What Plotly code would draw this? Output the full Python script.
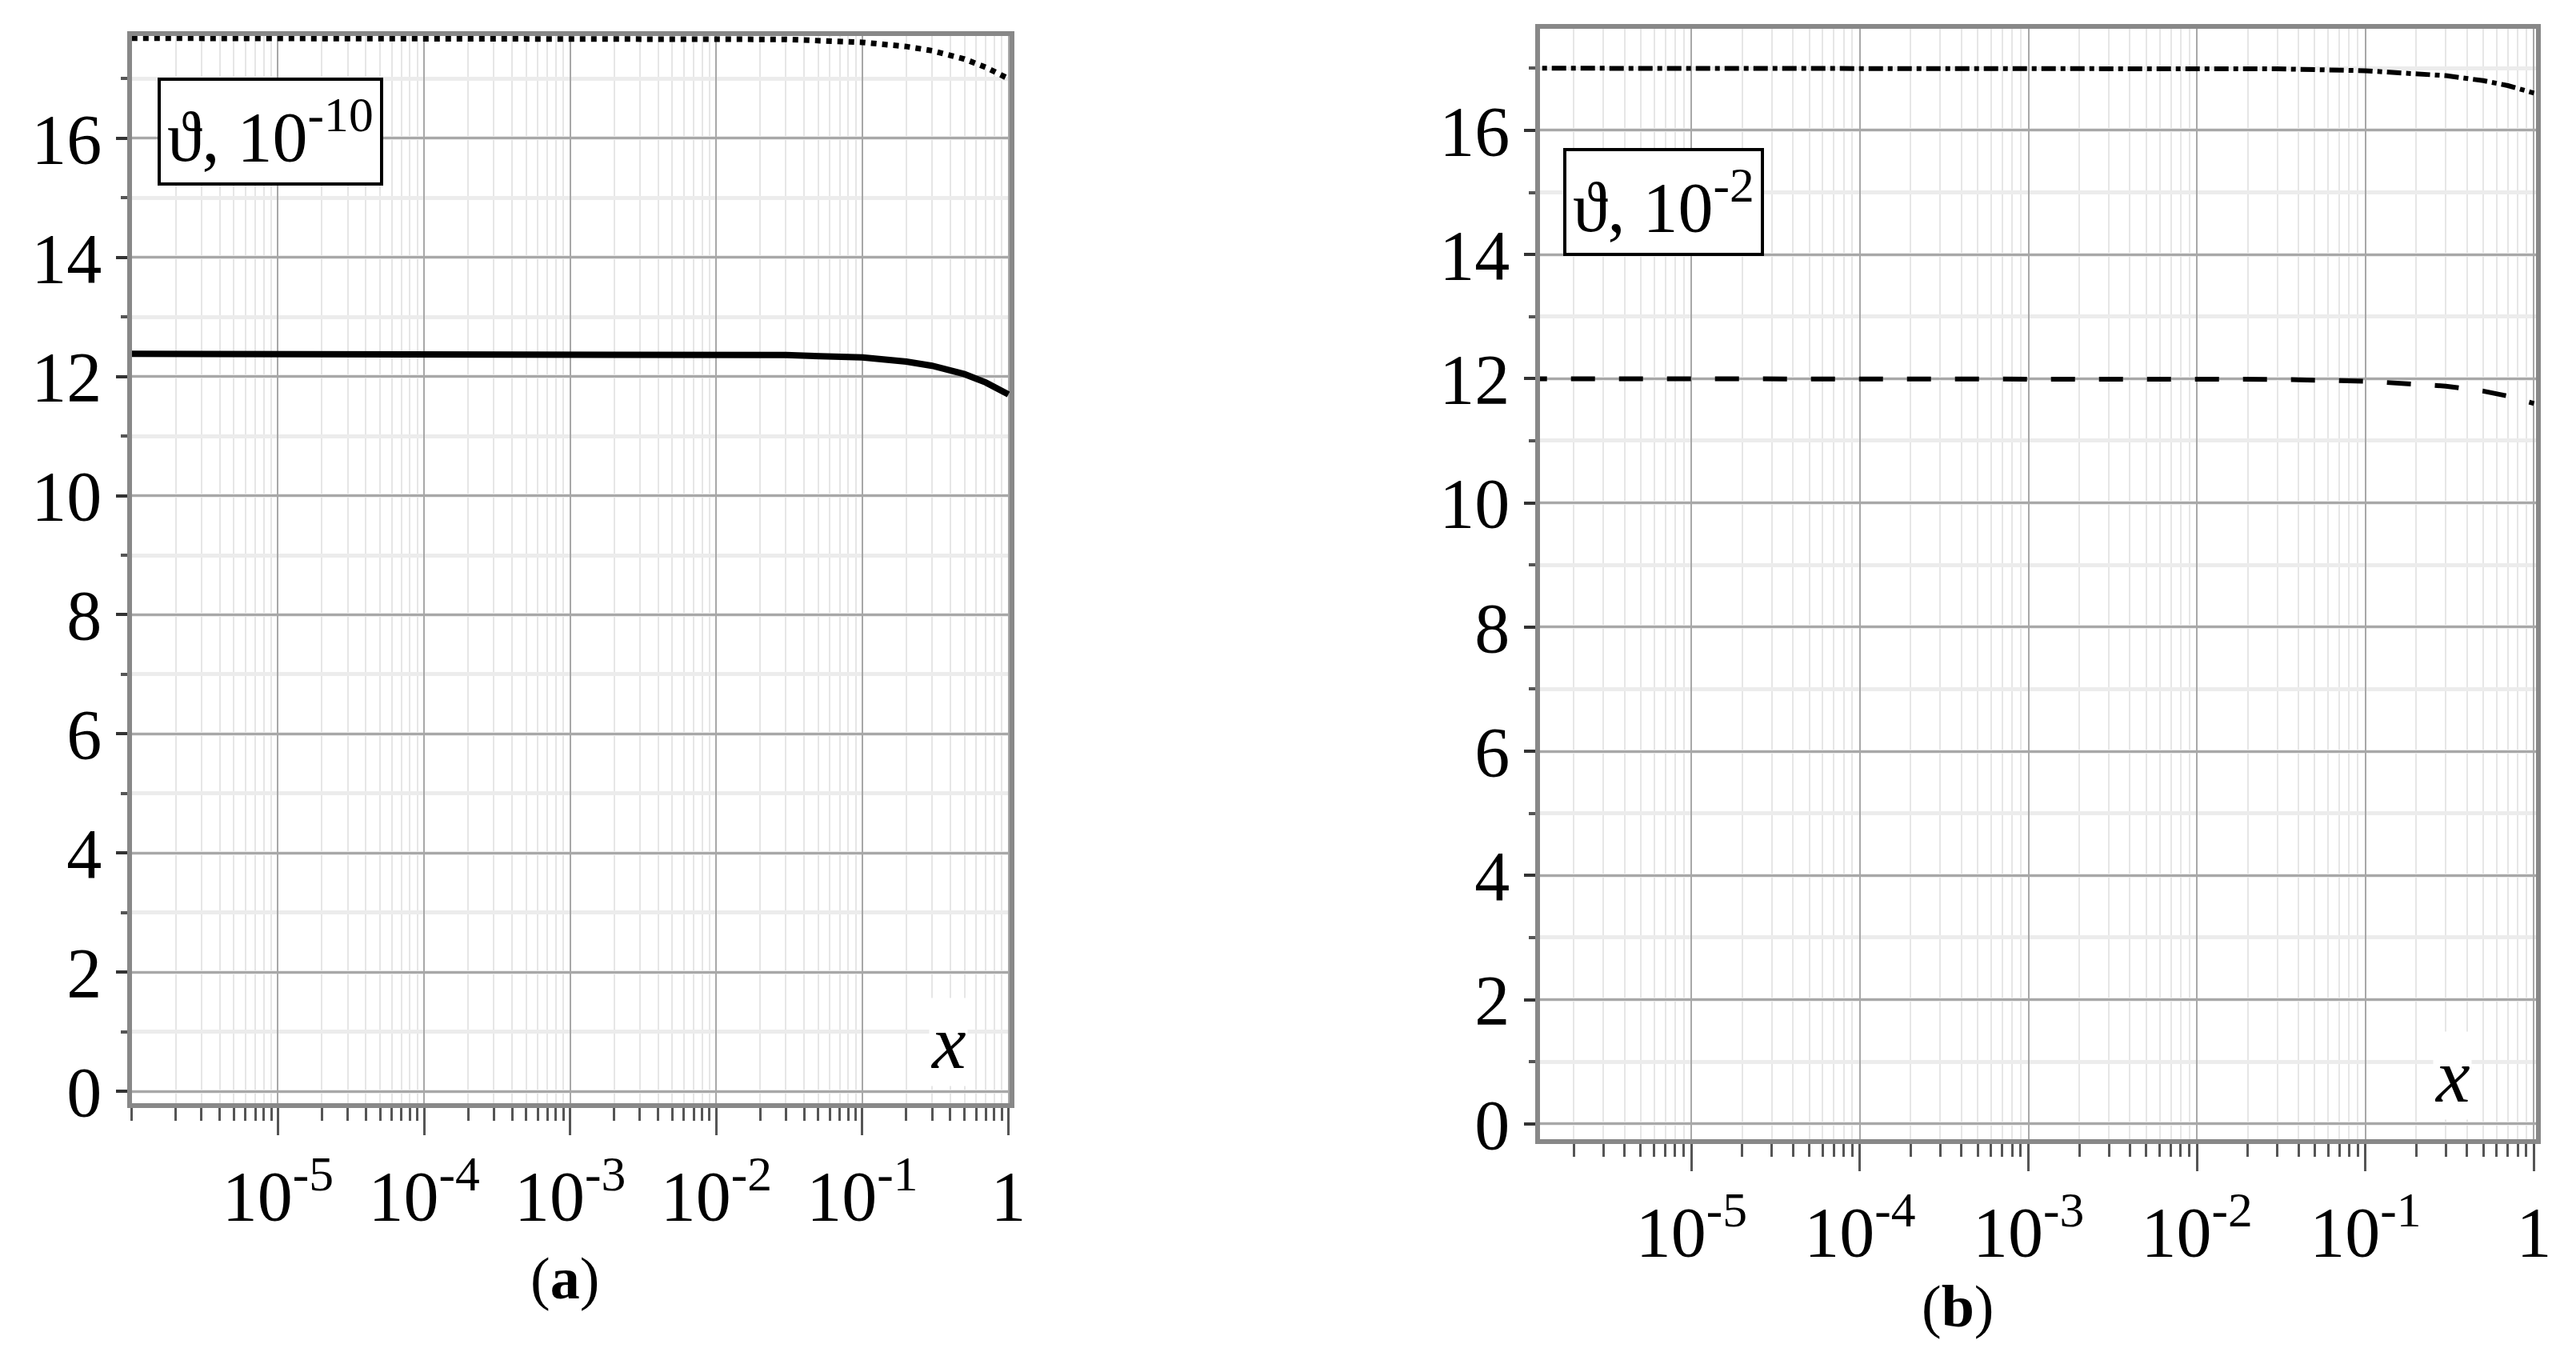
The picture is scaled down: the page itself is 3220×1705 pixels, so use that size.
import plotly.graph_objects as go

x_vals = [1e-6, 1e-3, 1e-2, 0.03, 0.1, 0.2, 0.3, 0.5, 0.7, 1.0]
a_solid = [12.38, 12.38, 12.37, 12.36, 12.32, 12.25, 12.18, 12.04, 11.90, 11.70]
a_dotted = [17.68, 17.68, 17.67, 17.66, 17.61, 17.54, 17.47, 17.33, 17.19, 17.00]
b_dashdot = [17.00, 17.00, 17.00, 16.99, 16.96, 16.92, 16.88, 16.80, 16.72, 16.60]
b_dashed = [12.00, 12.00, 12.00, 11.99, 11.96, 11.92, 11.88, 11.80, 11.72, 11.60]
xtick_vals = [1e-5, 1e-4, 1e-3, 1e-2, 1e-1, 1]
xtick_text = ["10<sup>-5</sup>", "10<sup>-4</sup>", "10<sup>-3</sup>", "10<sup>-2</sup>", "10<sup>-1</sup>", "1"]
ytick_vals = [0, 2, 4, 6, 8, 10, 12, 14, 16]

FONT = "Liberation Serif"
fig = go.Figure()
fig.add_trace(go.Scatter(x=x_vals, y=a_dotted, mode="lines", line=dict(color="black", width=7, dash="dot"), xaxis="x", yaxis="y"))
fig.add_trace(go.Scatter(x=x_vals, y=a_solid, mode="lines", line=dict(color="black", width=8), xaxis="x", yaxis="y"))
fig.add_trace(go.Scatter(x=x_vals, y=b_dashdot, mode="lines", line=dict(color="black", width=6, dash="dashdot"), xaxis="x2", yaxis="y2"))
fig.add_trace(go.Scatter(x=x_vals, y=b_dashed, mode="lines", line=dict(color="black", width=6, dash="longdash"), xaxis="x2", yaxis="y2"))

xcommon = dict(type="log", tickvals=xtick_vals, ticktext=xtick_text, showgrid=True, gridcolor="#a8a8a8", gridwidth=2,
               minor=dict(showgrid=True, gridcolor="#e6e6e6", gridwidth=2, ticks="outside", ticklen=16, tickcolor="#555", dtick="D1"),
               ticks="outside", ticklen=34, tickwidth=3, tickcolor="#555", showline=True, linecolor="#888", linewidth=6, mirror=True,
               tickfont=dict(family=FONT, size=88, color="black"), zeroline=False)
ycommon = dict(tickvals=ytick_vals, showgrid=True, gridcolor="#a8a8a8", gridwidth=3,
               minor=dict(showgrid=True, gridcolor="#ececec", gridwidth=5, dtick=1, ticks="outside", ticklen=8, tickcolor="#555"),
               ticks="outside", ticklen=14, tickwidth=4, tickcolor="#333", showline=True, linecolor="#888", linewidth=6, mirror=True,
               tickfont=dict(family=FONT, size=88, color="black"), zeroline=False)

fig.update_layout(
    width=3220, height=1705, margin=dict(l=0, r=0, t=0, b=0), paper_bgcolor="white", plot_bgcolor="white", showlegend=False,
    xaxis=dict(xcommon, domain=[0.049, 0.392], range=[-6, 0.01], anchor="y"),
    yaxis=dict(ycommon, domain=[0.179, 0.978], range=[-0.2, 17.72], anchor="x"),
    xaxis2=dict(xcommon, domain=[0.599, 0.988], range=[-5.9, 0.01], anchor="y2"),
    yaxis2=dict(ycommon, domain=[0.152, 0.983], range=[-0.25, 17.63], anchor="x2"),
)

ann = [
    dict(text="ϑ, 10<sup>-10</sup>", x=0.059, y=0.947, xanchor="left", yanchor="top"),
    dict(text="ϑ, 10<sup>-2</sup>", x=0.608, y=0.894, xanchor="left", yanchor="top"),
]
for a in ann:
    fig.add_annotation(xref="paper", yref="paper", showarrow=False, bordercolor="black", borderwidth=4, bgcolor="white",
                       borderpad=8, font=dict(family=FONT, size=88, color="black"), **a)
fig.add_annotation(text="<i>x</i>", xref="paper", yref="paper", x=0.368, y=0.225, yanchor="middle", showarrow=False, bgcolor="white",
                   font=dict(family=FONT, size=96, color="black"))
fig.add_annotation(text="<i>x</i>", xref="paper", yref="paper", x=0.963, y=0.200, yanchor="middle", showarrow=False, bgcolor="white",
                   font=dict(family=FONT, size=96, color="black"))
fig.add_annotation(text="(<b>a</b>)", xref="paper", yref="paper", x=0.204, y=0.048, yanchor="middle", showarrow=False,
                   font=dict(family=FONT, size=74, color="black"))
fig.add_annotation(text="(<b>b</b>)", xref="paper", yref="paper", x=0.777, y=0.027, yanchor="middle", showarrow=False,
                   font=dict(family=FONT, size=74, color="black"))

fig.write_html("out.html")
